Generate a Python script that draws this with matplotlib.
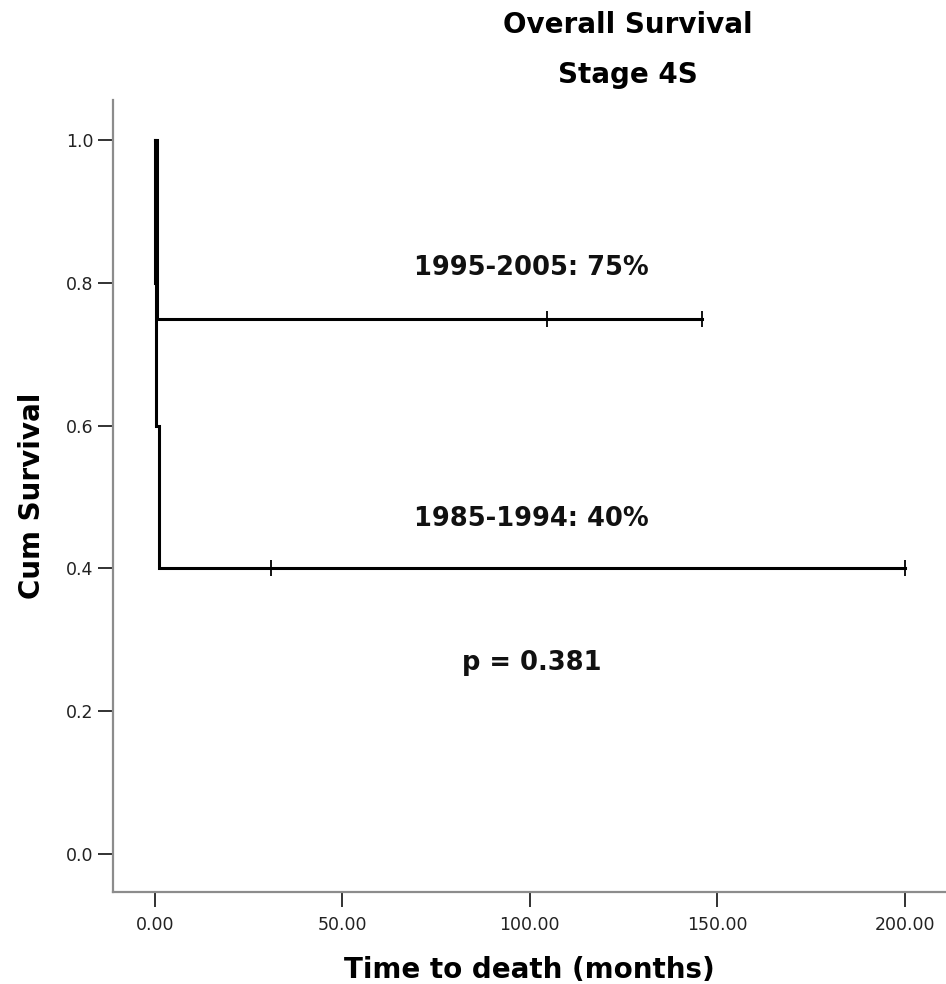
import matplotlib
matplotlib.use("Agg")
import matplotlib.pyplot as plt

# Kaplan-Meier step data
grpA_label = "1985-1994: 40%"
grpA_time = [0.0, 0.0, 0.3, 1.2, 200.0]
grpA_surv = [1.0, 0.8, 0.6, 0.4, 0.4]
grpA_cens_time = [31.0, 200.0]
grpA_cens_surv = [0.4, 0.4]

grpB_label = "1995-2005: 75%"
grpB_time = [0.0, 0.6, 146.0]
grpB_surv = [1.0, 0.75, 0.75]
grpB_cens_time = [104.5, 146.0]
grpB_cens_surv = [0.75, 0.75]

p_text = "p = 0.381"
xticks = [0, 50, 100, 150, 200]
xtick_labels = ["0.00", "50.00", "100.00", "150.00", "200.00"]
yticks = [0.0, 0.2, 0.4, 0.6, 0.8, 1.0]
ytick_labels = ["0.0", "0.2", "0.4", "0.6", "0.8", "1.0"]

W, H = 946, 984
fig = plt.figure(figsize=(W / 100, H / 100), dpi=100)
ax = fig.add_axes([113 / W, 1 - 892 / H, 1 - 113 / W, (892 - 100) / H])

lw = 2.2
ax.step(grpA_time, grpA_surv, where="post", color="black", lw=lw, solid_joinstyle="miter")
ax.step(grpB_time, grpB_surv, where="post", color="black", lw=lw, solid_joinstyle="miter")
ax.plot(grpA_cens_time, grpA_cens_surv, ls="none", marker="|", ms=11, mew=1.3, color="black")
ax.plot(grpB_cens_time, grpB_cens_surv, ls="none", marker="|", ms=11, mew=1.3, color="black")

ax.set_xlim(-11.2, 211)
ax.set_ylim(-0.053, 1.056)

ax.set_xticks(xticks)
ax.set_xticklabels(xtick_labels)
ax.set_yticks(yticks)
ax.set_yticklabels(ytick_labels)

for s in ["top", "right"]:
    ax.spines[s].set_visible(False)
for s in ["left", "bottom"]:
    ax.spines[s].set_color("#8c8c8c")
    ax.spines[s].set_linewidth(1.6)

ax.tick_params(axis="both", direction="out", length=11, width=1.3, color="#222222",
               labelsize=12.5, labelcolor="#222222", pad=3)
ax.tick_params(axis="x", pad=6)

ax.set_xlabel("Time to death (months)", fontsize=20, fontweight="bold", labelpad=16)
ax.set_ylabel("Cum Survival", fontsize=20, fontweight="bold", labelpad=14)

fig.text(628 / W, 1 - 25 / H, "Overall Survival", ha="center", va="center",
         fontsize=20, fontweight="bold")
fig.text(628 / W, 1 - 75 / H, "Stage 4S", ha="center", va="center",
         fontsize=20, fontweight="bold")

ann_size = 18.5
ax.text(100.5, 0.821, grpB_label, ha="center", va="center", fontsize=ann_size, fontweight="bold", color="#111111")
ax.text(100.5, 0.469, grpA_label, ha="center", va="center", fontsize=ann_size, fontweight="bold", color="#111111")
ax.text(100.5, 0.2675, p_text, ha="center", va="center", fontsize=ann_size, fontweight="bold", color="#111111")

fig.savefig("out.png", dpi=100, facecolor="white")
